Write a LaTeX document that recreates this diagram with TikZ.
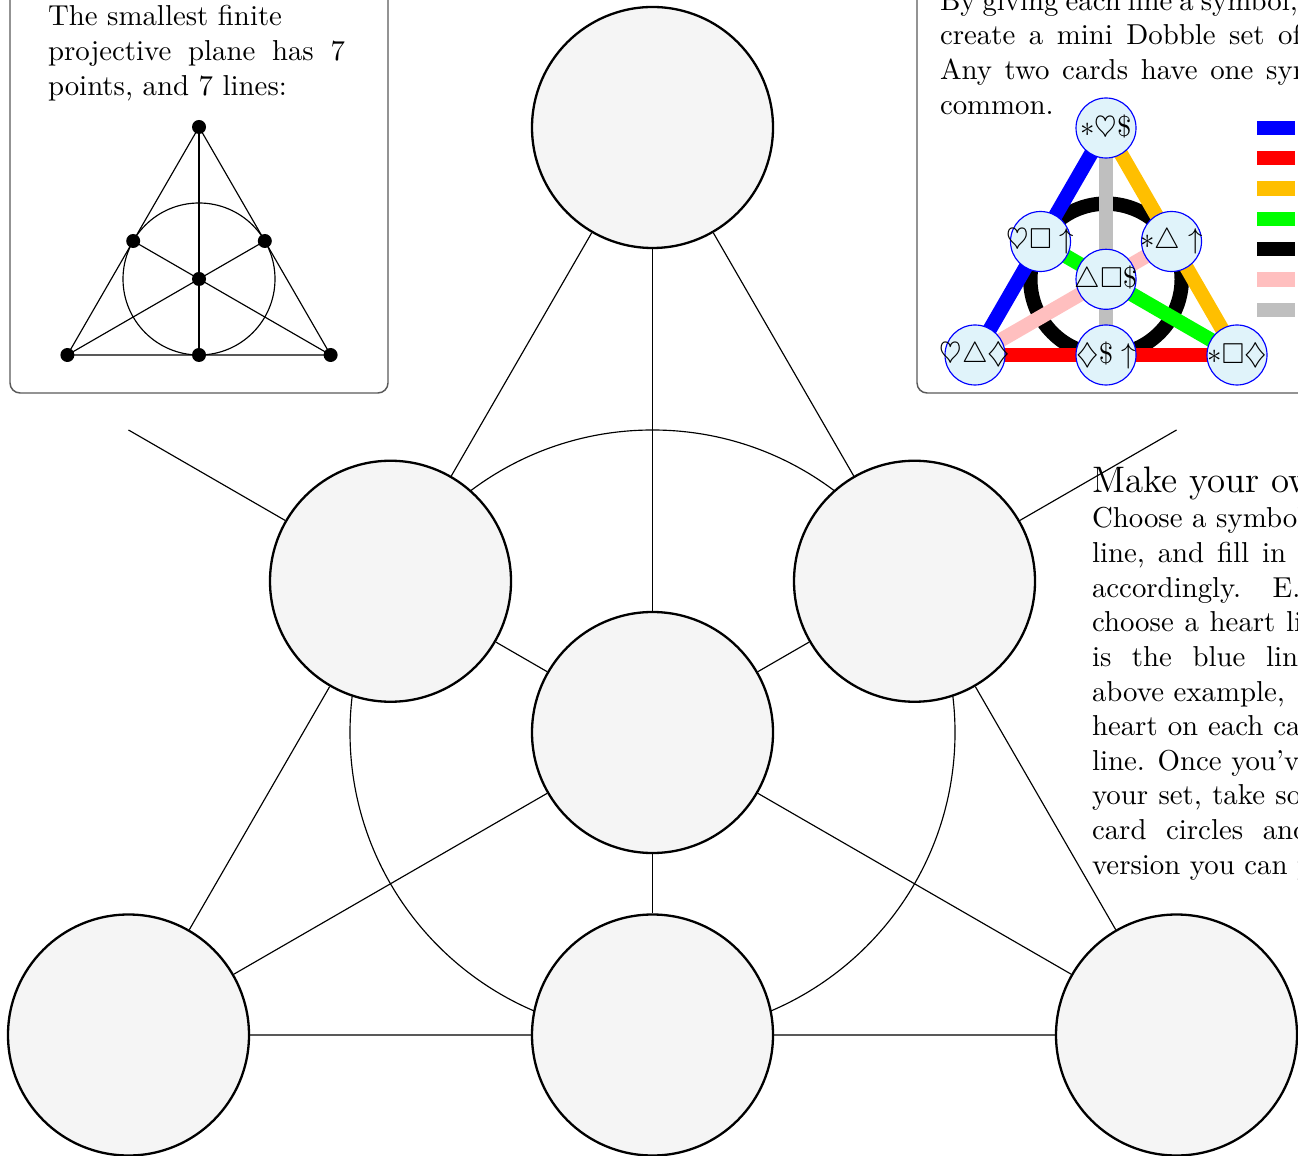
\documentclass[tikz,border=0pt]{standalone}
\usepackage{amssymb}
\usetikzlibrary{backgrounds}
\newdimen\pxu \pxu=0.347pt
\definecolor{amber}{RGB}{255,191,0}
\definecolor{cardfill}{RGB}{224,243,250}
\begin{document}
\begin{tikzpicture}[x=\pxu, y=-\pxu,
  card/.style={circle, draw=black, thick, fill=black!4, minimum size=241\pxu, inner sep=0pt},
  dot/.style={circle, fill=black, minimum size=14\pxu, inner sep=0pt},
  mini/.style={circle, draw=blue, fill=cardfill, minimum size=60\pxu, inner sep=0pt},
  box/.style={draw=black!65, line width=0.5pt, rounded corners=3.5pt},
  txt/.style={anchor=base west, inner sep=0pt, outer sep=0pt},
  fat/.style={line width=5pt},
]
\useasboundingbox (0,0) rectangle (1298,1156);
\clip (0,0) rectangle (1298,1156);

% ---------- boxes ----------
\draw[box] (10,-30) rectangle (388,393);
\draw[box] (917,-30) rectangle (1340,393);

% ---------- left box text ----------
\node[txt] (l1) at (48,26) {The smallest finite};
\node[txt] (l2) at (48,60.6) {\spaceskip=5.8pt projective plane has 7};
\node[txt] (l3) at (48,95.2) {points, and 7 lines:};

% ---------- small Fano plane ----------
\node[dot] (fT) at (199,127) {};
\node[dot] (fL) at (67.4,355) {};
\node[dot] (fR) at (330.6,355) {};
\node[dot] (fML) at (133.2,241) {};
\node[dot] (fMR) at (264.8,241) {};
\node[dot] (fMB) at (199,355) {};
\node[dot] (fC) at (199,279) {};
\begin{scope}[on background layer]
  \draw (fT.center) -- (fL.center) -- (fR.center) -- cycle;
  \draw (fT.center) -- (fMB.center);
  \draw (fL.center) -- (fMR.center);
  \draw (fR.center) -- (fML.center);
  \draw (fC.center) circle[radius=76];
\end{scope}

% ---------- right box text ----------
\node[txt] (r1) at (940,10.5) {\spaceskip=2.4pt By giving each line a symbol, we can};
\node[txt] (r2) at (940,45) {\spaceskip=4.7pt create a mini Dobble set of 7 cards.};
\node[txt] (r3) at (940,79.6) {\spaceskip=4.4pt Any two cards have one symbol in};
\node[txt] (r4) at (940,114.2) {common.};

% ---------- coloured mini Dobble ----------
\node[mini] (mT) at (1106,128) {\makebox[0pt]{$\ast\heartsuit\$$}};
\node[mini] (mML) at (1040.5,241.5) {\makebox[0pt]{$\heartsuit\square\uparrow$}};
\node[mini] (mMR) at (1171.5,241.5) {\makebox[0pt]{$\ast\triangle\uparrow$}};
\node[mini] (mC) at (1106,279.3) {\makebox[0pt]{$\triangle\square\$$}};
\node[mini] (mBL) at (975,355) {\makebox[0pt]{$\heartsuit\triangle\diamondsuit$}};
\node[mini] (mBM) at (1106,355) {\makebox[0pt]{$\diamondsuit\$\uparrow$}};
\node[mini] (mBR) at (1237,355) {\makebox[0pt]{$\ast\square\diamondsuit$}};
\begin{scope}[on background layer]
  \draw[fat, black] (mC.center) circle[radius=75.7];
  \draw[fat, lightgray] (mT.center) -- (mBM.center);
  \draw[fat, blue] (mT.center) -- (mBL.center);
  \draw[fat, amber] (mT.center) -- (mBR.center);
  \draw[fat, red] (mBL.center) -- (mBR.center);
  \draw[fat, green] (mML.center) -- (mBR.center);
  \draw[fat, pink] (mBL.center) -- (mMR.center);
\end{scope}

% legend bars
\draw[fat, blue] (1257,128) -- (1295,128);
\draw[fat, red] (1257,158.3) -- (1295,158.3);
\draw[fat, amber] (1257,188.6) -- (1295,188.6);
\draw[fat, green] (1257,218.9) -- (1295,218.9);
\draw[fat, black] (1257,249.2) -- (1295,249.2);
\draw[fat, pink] (1257,279.5) -- (1295,279.5);
\draw[fat, lightgray] (1257,309.8) -- (1295,309.8);

% ---------- big Fano plane of cards ----------
\node[card] (T) at (652.5,127.5) {};
\node[card] (LM) at (390.5,581.25) {};
\node[card] (RM) at (914.5,581.25) {};
\node[card] (C) at (652.5,732.5) {};
\node[card] (BL) at (128.5,1035) {};
\node[card] (BM) at (652.5,1035) {};
\node[card] (BR) at (1176.5,1035) {};
\coordinate (eT) at (652.5,1337.5);
\coordinate (eL) at (128.5,430);
\coordinate (eR) at (1176.5,430);
\begin{scope}[on background layer]
  \draw (T) -- (LM) -- (BL) -- (BM) -- (BR) -- (RM) -- (T);
  \draw (T) -- (C) -- (BM) -- (eT);
  \draw (BR) -- (C) -- (LM) -- (eL);
  \draw (BL) -- (C) -- (RM) -- (eR);
  \draw (C.center) circle[radius=302.5];
\end{scope}

% ---------- make your own ----------
\node[txt] (h) at (1092,493) {\fontsize{12.8pt}{15pt}\selectfont Make your own};
\node[txt] (p1) at (1092,528) {Choose a symbol for each};
\node[txt] (p2) at (1092,562.6) {\spaceskip=4.47pt line, and fill in the cards};
\node[txt] (p3) at (1092,597.2) {\spaceskip=4.35pt\xspaceskip=11pt accordingly. E.g. if you};
\node[txt] (p4) at (1092,631.8) {\spaceskip=3.73pt choose a heart line, which};
\node[txt] (p5) at (1092,666.4) {\spaceskip=7.15pt is the blue line in the};
\node[txt] (p6) at (1092,701) {above example,\hspace{4.8pt}draw a};
\node[txt] (p7) at (1092,735.6) {\spaceskip=3.47pt heart on each card on};
\node[txt] (p8) at (1092,770.2) {line. Once you've made};
\node[txt] (p9) at (1092,804.8) {\spaceskip=3.6pt your set, take some};
\node[txt] (p10) at (1092,839.4) {\spaceskip=6.8pt card circles and};
\node[txt] (p11) at (1092,874) {version you can print};
\end{tikzpicture}
\end{document}
